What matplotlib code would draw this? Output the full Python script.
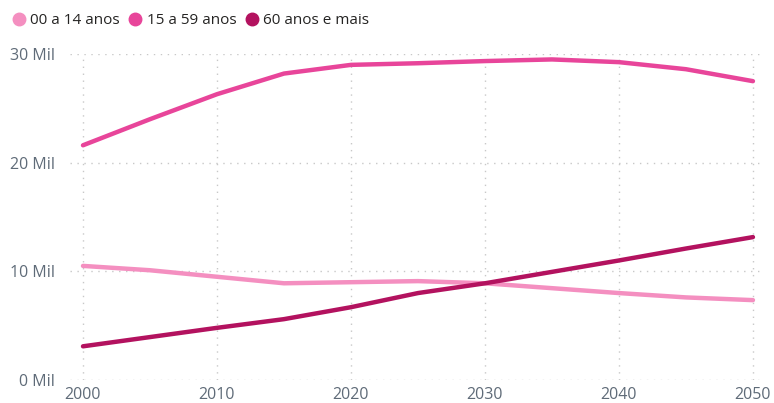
import numpy as np
import matplotlib.pyplot as plt
from matplotlib.lines import Line2D
from matplotlib.ticker import FuncFormatter

plt.rcParams['font.family'] = ['Open Sans', 'DejaVu Sans']

# data (thousands of people)
years = [2000, 2005, 2010, 2015, 2020, 2025, 2030, 2035, 2040, 2045, 2050]
age_0_14 = [10.5, 10.1, 9.5, 8.9, 9.0, 9.1, 8.9, 8.45, 8.0, 7.6, 7.35]
age_15_59 = [21.6, 24.0, 26.3, 28.2, 29.0, 29.15, 29.35, 29.5, 29.25, 28.6, 27.5]
age_60_plus = [3.1, 3.95, 4.8, 5.6, 6.7, 8.0, 8.9, 9.95, 11.0, 12.1, 13.15]

labels = ['00 a 14 anos', '15 a 59 anos', '60 anos e mais']
colors = ['#F48FC0', '#E8459A', '#B3125F']

fig = plt.figure(figsize=(7.74, 4.03), dpi=100)
ax = fig.add_axes([70 / 774, 23 / 403, 693 / 774, 326 / 403])

series = [age_0_14, age_15_59, age_60_plus]
for vals, col in zip(series, colors):
    ax.plot(years, np.array(vals) * 1000, color=col, lw=3.2,
            solid_capstyle='round', solid_joinstyle='round', clip_on=False)

ax.set_xlim(1999.03, 2050.75)
ax.set_ylim(0, 30000)
ax.set_xticks([2000, 2010, 2020, 2030, 2040, 2050])
ax.set_yticks([0, 10000, 20000, 30000])
ax.yaxis.set_major_formatter(FuncFormatter(lambda v, p: f'{int(v / 1000)} Mil'))

for s in ax.spines.values():
    s.set_visible(False)
ax.tick_params(length=0, labelsize=11.5, colors='#5F6B78')
ax.tick_params(axis='y', pad=11)
ax.tick_params(axis='x', pad=5)
ax.grid(True, color='#C8C8C8', linestyle=(0, (1, 4)), lw=1)
ax.set_axisbelow(True)

handles = [Line2D([], [], marker='o', ls='', color=c, markersize=9) for c in colors]
fig.legend(handles, labels, loc='upper left', bbox_to_anchor=(-0.012, 1.0),
           ncol=3, frameon=False, handletextpad=-0.25, columnspacing=0.0,
           fontsize=11, labelcolor='#252423', borderaxespad=0.45)

fig.savefig('out.png', dpi=100)
